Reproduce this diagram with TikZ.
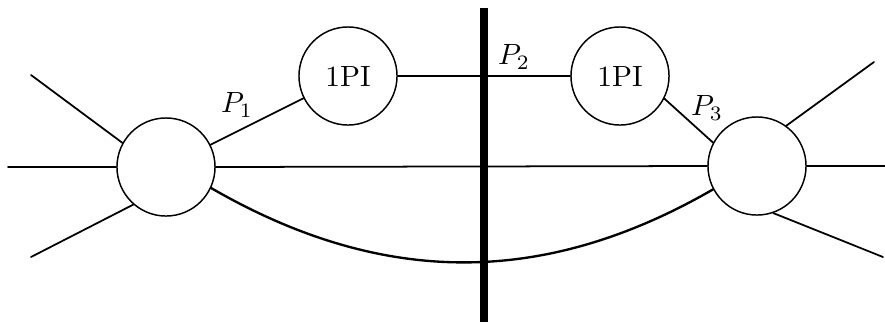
\documentclass[tikz,border=0pt]{standalone}
\usetikzlibrary{calc,positioning}

\begin{document}
\begin{tikzpicture}[
		x=0.012cm, y=0.012cm,
		line join=round,
		line cap=round,
		blob/.style={circle, draw, line width=0.5pt, minimum size=1.176cm, inner sep=0pt},
		prop/.style={line width=0.6pt},
		arc/.style={line width=0.8pt},
		cut/.style={line width=2.7pt, line cap=butt},
		lab/.style={inner sep=1pt}
	]
	
	% Frame
	\useasboundingbox (0,0) rectangle (885,322);
	
	% Vertices
	\node[blob] (lv) at (166,155) {};
	\node[blob] (rv) at (757,156) {};
	\node[blob] (lpi) at (348,246) {1PI};
	\node[blob] (rpi) at (620,246) {1PI};
	
	% External legs
	\coordinate (ul) at (31,247);
	\coordinate (ml) at (8,155);
	\coordinate (dl) at (31,65);
	\coordinate (ur) at (874,260);
	\coordinate (mr) at (885,156);
	\coordinate (dr) at (883,65);
	\draw[prop] (ul) -- (lv.151);
	\draw[prop] (ml) -- (lv.west);
	\draw[prop] (dl) -- (lv.229);
	\draw[prop] (ur) -- (rv.54);
	\draw[prop] (mr) -- (rv.east);
	\draw[prop] (dr) -- (rv.-71);
	
	% Internal lines
	\draw[prop] (lv) -- (lpi);
	\draw[prop] (lpi.east) -- (rpi.west);
	\draw[prop] (rpi.-27) -- (rv.152);
	\draw[prop] (lv.east) -- (rv.west);
	\draw[arc] (lv.-25) to[out=-30, in=210] (rv.208);
	
	% Cut
	\coordinate (ctop) at (484,314);
	\coordinate (cbot) at (484,0);
	\draw[cut] (ctop) -- (cbot);
	
	% Momentum labels
	\node[lab] (p1) at (237,217) {$P_1$};
	\node[lab] (p2) at (514,265) {$P_2$};
	\node[lab] (p3) at (707,214) {$P_3$};
	
\end{tikzpicture}
\end{document}
